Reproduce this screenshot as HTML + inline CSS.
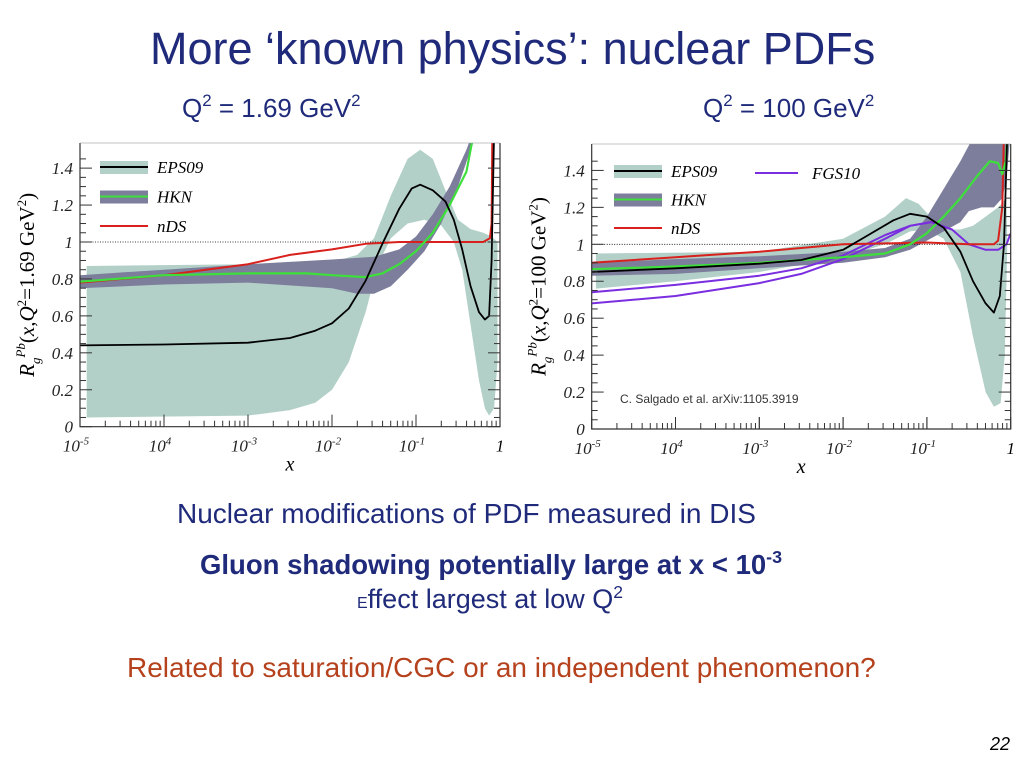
<!DOCTYPE html>
<html><head><meta charset="utf-8">
<style>
body{margin:0;width:1024px;height:768px;background:#fff;overflow:hidden;position:relative;font-family:"Liberation Sans",sans-serif}
.t{position:absolute;white-space:nowrap;margin:0}
sup{font-size:65%;vertical-align:top;position:relative;top:-2px}
svg{position:absolute;left:0;top:0}
</style></head><body>
<div class="t" style="left:150px;top:23px;font-size:45px;color:#1f2a7a">More ‘known physics’: nuclear PDFs</div>
<div class="t" style="left:182px;top:93px;font-size:26px;color:#1f2a7a">Q<sup>2</sup> = 1.69 GeV<sup>2</sup></div>
<div class="t" style="left:703px;top:93px;font-size:26px;color:#1f2a7a">Q<sup>2</sup> = 100 GeV<sup>2</sup></div>
<div class="t" style="left:177px;top:498px;font-size:28px;color:#1f2a7a">Nuclear modifications of PDF measured in DIS</div>
<div class="t" style="left:200px;top:549px;font-size:27.5px;font-weight:bold;color:#1f2a7a">Gluon shadowing potentially large at x &lt; 10<sup>-3</sup></div>
<div class="t" style="left:357px;top:584px;font-size:27px;color:#1f2a7a"><span style="font-size:16px">E</span>ffect largest at low Q<sup>2</sup></div>
<div class="t" style="left:127px;top:652px;font-size:28px;color:#b5411d">Related to saturation/CGC or an independent phenomenon?</div>
<div class="t" style="left:990px;top:734px;font-size:18px;font-style:italic;color:#000">22</div>
<svg id="svg" width="1024" height="768"></svg>
<script>
// ---- Left chart data (log10 x, R) ----
const L_eps_c=[[-5,0.44],[-4,0.445],[-3,0.455],[-2.5,0.48],[-2.2,0.52],[-2,0.56],[-1.8,0.64],[-1.6,0.79],[-1.4,0.99],[-1.2,1.18],[-1.05,1.29],[-0.95,1.31],[-0.8,1.28],[-0.65,1.22],[-0.55,1.12],[-0.45,0.96],[-0.35,0.76],[-0.25,0.62],[-0.18,0.58],[-0.13,0.6],[-0.1,0.9],[-0.07,1.6]];
const L_eps_lo=[[-4.92,0.05],[-3,0.06],[-2.5,0.09],[-2.2,0.13],[-2,0.2],[-1.8,0.35],[-1.6,0.62],[-1.45,0.88],[-1.3,1.02],[-1.1,1.1],[-0.9,1.12],[-0.7,1.09],[-0.55,1.0],[-0.45,0.85],[-0.35,0.55],[-0.25,0.25],[-0.18,0.1],[-0.13,0.06],[-0.07,0.1],[-0.03,0.35]];
const L_eps_hi=[[-4.92,0.87],[-3,0.88],[-2,0.89],[-1.7,0.93],[-1.5,1.02],[-1.3,1.25],[-1.1,1.45],[-0.95,1.5],[-0.8,1.45],[-0.65,1.28],[-0.5,1.12],[-0.35,1.07],[-0.2,1.05],[-0.1,1.03],[-0.03,1.0]];
const L_hkn_hi=[[-5,0.82],[-4,0.85],[-3,0.88],[-2,0.905],[-1.5,0.92],[-1.2,0.96],[-1,1.03],[-0.8,1.15],[-0.6,1.3],[-0.4,1.5],[-0.3,1.62]];
const L_hkn_lo=[[-5,0.75],[-4,0.77],[-3,0.78],[-2,0.75],[-1.7,0.72],[-1.5,0.72],[-1.3,0.76],[-1.1,0.85],[-0.9,0.95],[-0.7,1.1],[-0.5,1.3],[-0.35,1.5],[-0.25,1.62]];
const L_hkn_c=[[-5,0.785],[-4,0.82],[-3,0.83],[-2.3,0.83],[-2,0.82],[-1.6,0.81],[-1.4,0.83],[-1.2,0.88],[-1,0.95],[-0.8,1.05],[-0.6,1.2],[-0.4,1.38],[-0.3,1.62]];
const L_nds=[[-5,0.78],[-4,0.82],[-3,0.88],[-2.5,0.93],[-2,0.96],[-1.6,0.99],[-1.2,1.0],[-0.5,1.0],[-0.2,1.0],[-0.12,1.02],[-0.1,1.1],[-0.09,1.62]];
// ---- Right chart data ----
const R_eps_c=[[-5,0.85],[-4,0.87],[-3,0.895],[-2.5,0.915],[-2,0.97],[-1.7,1.05],[-1.4,1.13],[-1.2,1.165],[-1,1.15],[-0.8,1.09],[-0.6,0.96],[-0.45,0.8],[-0.3,0.68],[-0.2,0.63],[-0.13,0.72],[-0.08,1.0],[-0.04,1.6]];
const R_eps_hi=[[-4.95,0.95],[-3,0.96],[-2,1.03],[-1.5,1.15],[-1.25,1.25],[-1.1,1.22],[-0.9,1.12],[-0.75,1.08],[-0.6,1.08],[-0.45,1.1],[-0.3,1.15],[-0.15,1.2],[-0.05,1.25]];
const R_eps_lo=[[-4.95,0.76],[-4,0.8],[-3,0.85],[-2,0.93],[-1.5,1.0],[-1.2,1.07],[-1,1.08],[-0.8,1.03],[-0.6,0.85],[-0.45,0.5],[-0.3,0.2],[-0.2,0.12],[-0.12,0.14],[-0.07,0.4],[-0.04,1.0]];
const R_hkn_hi=[[-5,0.9],[-4,0.92],[-3,0.935],[-2,0.96],[-1.5,0.98],[-1.2,1.03],[-1,1.15],[-0.8,1.3],[-0.6,1.45],[-0.4,1.62],[0,1.62]];
const R_hkn_lo=[[-5,0.83],[-4,0.84],[-3,0.87],[-2,0.9],[-1.5,0.93],[-1.2,0.97],[-1,1.02],[-0.8,1.07],[-0.6,1.12],[-0.5,1.18],[-0.35,1.2],[-0.2,1.2],[-0.1,1.25],[-0.05,1.35],[0,1.62]];
const R_hkn_c=[[-5,0.865],[-4,0.88],[-3,0.9],[-2,0.93],[-1.5,0.95],[-1.2,1.0],[-1,1.06],[-0.8,1.15],[-0.6,1.25],[-0.4,1.37],[-0.25,1.45],[-0.15,1.44],[-0.1,1.38],[-0.06,1.45],[-0.03,1.62]];
const R_nds=[[-5,0.9],[-4,0.93],[-3,0.96],[-2,1.0],[-1,1.01],[-0.5,1.0],[-0.2,1.0],[-0.15,1.02],[-0.1,1.2],[-0.08,1.62]];
const R_fgs_hi=[[-5,0.74],[-4,0.78],[-3,0.83],[-2.5,0.87],[-2,0.94],[-1.5,1.05],[-1.2,1.1],[-0.95,1.12],[-0.7,1.08],[-0.5,1.0],[-0.3,0.97],[-0.15,0.97],[-0.05,1.0],[0,1.06]];
const R_fgs_lo=[[-5,0.68],[-4,0.72],[-3,0.79],[-2.5,0.84],[-2,0.92],[-1.5,1.03],[-1.2,1.1],[-0.95,1.12]];
const yTicks=["0","0.2","0.4","0.6","0.8","1","1.2","1.4"];
const xTickExp=["-5","4","-3","-2","-1"];

const NS="http://www.w3.org/2000/svg";
const svg=document.getElementById('svg');
function mk(tag,attrs,parent){const e=document.createElementNS(NS,tag);for(const k in attrs)e.setAttribute(k,attrs[k]);(parent||svg).appendChild(e);return e;}

function chart(cfg){
  const g=mk('g',{});
  
  
  const X=lx=>cfg.x0+(lx+5)*(cfg.x1-cfg.x0)/5;
  const Y=v=>cfg.y0-v*(cfg.y0-cfg.y1);
  const clipId=cfg.name+'-clip';
  const cp=mk('clipPath',{id:clipId},g);
  mk('rect',{x:cfg.x0,y:cfg.top,width:cfg.x1-cfg.x0,height:cfg.y0-cfg.top},cp);
  const pg=mk('g',{'clip-path':'url(#'+clipId+')'},g);
  const pts=a=>a.map(p=>X(p[0]).toFixed(1)+','+Y(p[1]).toFixed(1)).join(' ');
  function band(hi,lo,fill,name){const e=mk('polygon',{points:pts(hi)+' '+pts(lo.slice().reverse()),fill:fill},pg);
    
    }
  function line(a,col,w,name){const e=mk('polyline',{points:pts(a),fill:'none',stroke:col,'stroke-width':w,'stroke-linejoin':'round'},pg);
    
    }
  band(cfg.eHi,cfg.eLo,'#b2d0c8','eps09-band');
  band(cfg.hHi,cfg.hLo,'#7d7e9c','hkn-band');
  mk('line',{x1:cfg.x0,x2:cfg.x1,y1:Y(1),y2:Y(1),stroke:'#000','stroke-width':0.8,'stroke-dasharray':'1,1.5'},pg);
  if(cfg.fHi){line(cfg.fHi,'#7a2ee0',2,'fgs10-upper-line');line(cfg.fLo,'#7a2ee0',2,'fgs10-lower-line');}
  line(cfg.nds,'#d8201c',2,'nds-line');
  line(cfg.hC,'#3de03a',2.2,'hkn-line');
  line(cfg.eC,'#000',1.8,'eps09-line');
  mk('polyline',{points:`${cfg.x0},${cfg.top} ${cfg.x0},${cfg.y0} ${cfg.x1},${cfg.y0} ${cfg.x1},${cfg.top}`,fill:'none',stroke:'#333','stroke-width':1.2},g);
  mk('line',{x1:cfg.x0,x2:cfg.x1,y1:cfg.top,y2:cfg.top,stroke:'#888','stroke-width':0.6},g);
  for(let v=0;v<=1.5;v+=0.05){const big=Math.abs(v*5-Math.round(v*5))<1e-6;const L=big?12:6;
    mk('line',{x1:cfg.x0,x2:cfg.x0+L,y1:Y(v),y2:Y(v),stroke:'#333','stroke-width':1},g);
    mk('line',{x1:cfg.x1,x2:cfg.x1-L,y1:Y(v),y2:Y(v),stroke:'#333','stroke-width':1},g);}
  yTicks.forEach((s,i)=>{const t=mk('text',{x:cfg.x0-7,y:Y(i*0.2)+6,'text-anchor':'end','font-family':'Liberation Serif,serif','font-style':'italic','font-size':17,fill:'#222'},g);t.textContent=s;
    
    });
  for(let d=-5;d<0;d++){for(let k=1;k<=10;k++){const lx=d+Math.log10(k);const L=(k==1||k==10)?12:6;
    mk('line',{x1:X(lx),x2:X(lx),y1:cfg.y0,y2:cfg.y0-L,stroke:'#333','stroke-width':1},g);}}
  xTickExp.forEach((s,i)=>{const t=mk('text',{x:X(i-5)-4,y:cfg.y0+25,'text-anchor':'middle','font-family':'Liberation Serif,serif','font-style':'italic','font-size':17,fill:'#222'},g);
    t.innerHTML='10<tspan dy="-7" font-size="11">'+s+'</tspan>';
    
    });
  const one=mk('text',{x:X(0),y:cfg.y0+25,'text-anchor':'middle','font-family':'Liberation Serif,serif','font-style':'italic','font-size':17},g);one.textContent='1';
  
  
  const xt=mk('text',{x:(cfg.x0+cfg.x1)/2,y:cfg.y0+44,'text-anchor':'middle','font-family':'Liberation Serif,serif','font-style':'italic','font-size':20},g);xt.textContent='x';
  
  
  const yt=mk('text',{transform:`translate(${cfg.x0-46},${(cfg.top+cfg.y0)/2}) rotate(-90)`,'text-anchor':'middle','font-family':'Liberation Serif,serif','font-size':21},g);
  yt.innerHTML='<tspan font-style="italic">R</tspan><tspan dy="6" font-size="13" font-style="italic">g</tspan><tspan dy="-15" font-size="13" font-style="italic">Pb</tspan><tspan dy="9">(</tspan><tspan font-style="italic">x,Q</tspan><tspan dy="-8" font-size="13">2</tspan><tspan dy="8">='+cfg.q+' GeV</tspan><tspan dy="-8" font-size="13">2</tspan><tspan dy="8">)</tspan>';
  
  
  const lx=cfg.legX, ly=cfg.legY;
  const items=[['#b2d0c8','#000','EPS09'],['#7d7e9c','#3de03a','HKN'],[null,'#d8201c','nDS']];
  items.forEach((it,i)=>{const y=ly+i*cfg.legDy;const lg=mk('g',{},g);
    
    
    if(it[0])mk('rect',{x:lx,y:y-6,width:48,height:13,fill:it[0]},lg);
    mk('line',{x1:lx,x2:lx+48,y1:y,y2:y,stroke:it[1],'stroke-width':2},lg);
    const t=mk('text',{x:lx+57,y:y+6,'font-family':'Liberation Serif,serif','font-style':'italic','font-size':17},lg);t.textContent=it[2];});
  if(cfg.fHi){const lg=mk('g',{},g);
    
    
    mk('line',{x1:755,x2:798,y1:ly+2,y2:ly+2,stroke:'#7a2ee0','stroke-width':2},lg);
    const t=mk('text',{x:812,y:ly+8,'font-family':'Liberation Serif,serif','font-style':'italic','font-size':17},lg);t.textContent='FGS10';}
  if(cfg.cite){const t=mk('text',{x:620,y:403,'font-family':'Liberation Sans,sans-serif','font-size':12,fill:'#333'},g);t.textContent=cfg.cite;
    
    }
}
chart({name:'left-chart',x0:80,x1:500,y0:426.7,y1:242,top:143,q:'1.69',eC:L_eps_c,eHi:L_eps_hi,eLo:L_eps_lo,hHi:L_hkn_hi,hLo:L_hkn_lo,hC:L_hkn_c,nds:L_nds,legX:100,legY:167,legDy:29.5});
chart({name:'right-chart',x0:591.7,x1:1010.7,y0:429,y1:244.3,top:144,q:'100',eC:R_eps_c,eHi:R_eps_hi,eLo:R_eps_lo,hHi:R_hkn_hi,hLo:R_hkn_lo,hC:R_hkn_c,nds:R_nds,fHi:R_fgs_hi,fLo:R_fgs_lo,legX:614,legY:171,legDy:28.5,cite:'C. Salgado et al. arXiv:1105.3919'});
</script>
</body></html>
